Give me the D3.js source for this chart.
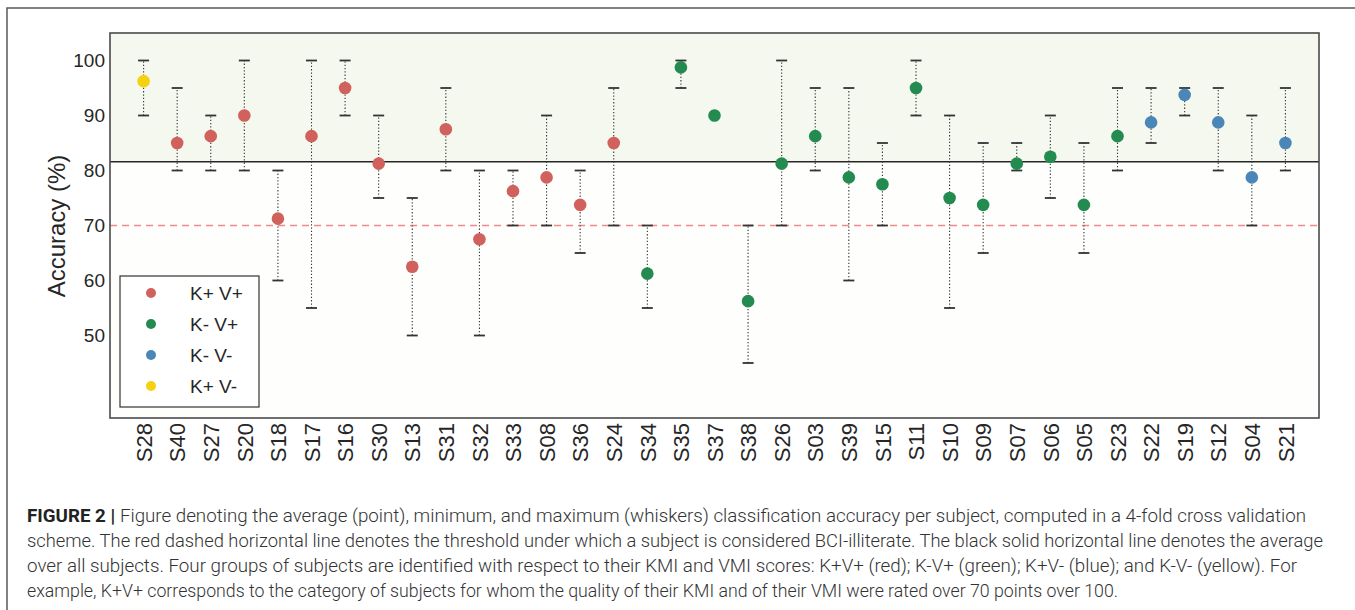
<!DOCTYPE html>
<html>
<head>
<meta charset="utf-8">
<script src="https://cdn.jsdelivr.net/npm/d3@7"></script>
<style>
	body { margin: 0; background: #fff; }
	svg { display: block; }
</style>
</head>
<body>
<div id="wrapper"></div>
<script>
const subjects = ["S28", "S40", "S27", "S20", "S18", "S17", "S16", "S30", "S13", "S31", "S32", "S33", "S08", "S36", "S24", "S34", "S35", "S37", "S38", "S26", "S03", "S39", "S15", "S11", "S10", "S09", "S07", "S06", "S05", "S23", "S22", "S19", "S12", "S04", "S21"];
const means = [96.25, 85, 86.25, 90, 71.25, 86.25, 95, 81.25, 62.5, 87.5, 67.5, 76.25, 78.75, 73.75, 85, 61.25, 98.75, 90, 56.25, 81.25, 86.25, 78.75, 77.5, 95, 75, 73.75, 81.25, 82.5, 73.75, 86.25, 88.75, 93.75, 88.75, 78.75, 85];
const mins = [90, 80, 80, 80, 60, 55, 90, 75, 50, 80, 50, 70, 70, 65, 70, 55, 95, 90, 45, 70, 80, 60, 70, 90, 55, 65, 80, 75, 65, 80, 85, 90, 80, 70, 80];
const maxs = [100, 95, 90, 100, 80, 100, 100, 90, 75, 95, 80, 80, 90, 80, 95, 70, 100, 90, 70, 100, 95, 95, 85, 100, 90, 85, 85, 90, 85, 95, 95, 95, 95, 90, 95];
const groups = ["K+ V-", "K+ V+", "K+ V+", "K+ V+", "K+ V+", "K+ V+", "K+ V+", "K+ V+", "K+ V+", "K+ V+", "K+ V+", "K+ V+", "K+ V+", "K+ V+", "K+ V+", "K- V+", "K- V+", "K- V+", "K- V+", "K- V+", "K- V+", "K- V+", "K- V+", "K- V+", "K- V+", "K- V+", "K- V+", "K- V+", "K- V+", "K- V+", "K- V-", "K- V-", "K- V-", "K- V-", "K- V-"];
const legendLabels = ["K+ V+", "K- V+", "K- V-", "K+ V-"];
const groupColors = ["#d1615d", "#238b50", "#4a86b8", "#f6d10f"];
const yTicks = [50, 60, 70, 80, 90, 100];
const yDomain = [35, 105];
const threshold = 70;

const captionLines = [
	["FIGURE 2 | ", "Figure denoting the average (point), minimum, and maximum (whiskers) classification accuracy per subject, computed in a 4-fold cross validation"],
	["", "scheme. The red dashed horizontal line denotes the threshold under which a subject is considered BCI-illiterate. The black solid horizontal line denotes the average"],
	["", "over all subjects. Four groups of subjects are identified with respect to their KMI and VMI scores: K+V+ (red); K-V+ (green); K+V- (blue); and K-V- (yellow). For"],
	["", "example, K+V+ corresponds to the category of subjects for whom the quality of their KMI and of their VMI were rated over 70 points over 100."],
];
const captionWidths = [1279, 1296, 1270, 1091];

class Chart {
	dimensions = {
		width: 1355,
		height: 610,
		margins: { top: 33, right: 36, bottom: 192, left: 110 },
	};
	svg;
	bounds;
	xScale;
	yScale;
	color;

	constructor() {
		const d = this.dimensions;
		d.boundedWidth = d.width - d.margins.left - d.margins.right;
		d.boundedHeight = d.height - d.margins.top - d.margins.bottom;

		this.data = subjects.map((s, i) => ({
			subject: s,
			mean: means[i],
			min: mins[i],
			max: maxs[i],
			group: groups[i],
		}));
		this.average = d3.mean(means);

		this.drawCanvas();
		this.createScales();
		this.drawBackground();
		this.drawAxes();
		this.drawLines();
		this.drawWhiskers();
		this.drawPoints();
		this.drawLegend();
		this.drawCaption();
	}

	drawCanvas() {
		const { width, height, margins } = this.dimensions;
		this.svg = d3
			.select("#wrapper")
			.append("svg")
			.attr("width", width)
			.attr("height", height);

		// figure frame (runs off the right and bottom edges)
		this.svg
			.append("path")
			.attr("d", `M7,${height + 5} V8 H${width + 5}`)
			.attr("fill", "none")
			.attr("stroke", "#5a5a5a")
			.attr("stroke-width", 1.5);

		this.bounds = this.svg
			.append("g")
			.attr("transform", `translate(${margins.left}, ${margins.top})`);
	}

	createScales() {
		const { boundedWidth, boundedHeight } = this.dimensions;
		this.xScale = d3.scalePoint().domain(subjects).range([0, boundedWidth]).padding(1);
		this.yScale = d3.scaleLinear().domain(yDomain).range([boundedHeight, 0]);
		this.color = d3.scaleOrdinal().domain(legendLabels).range(groupColors);
	}

	drawBackground() {
		const { boundedWidth, boundedHeight } = this.dimensions;
		const yAvg = this.yScale(this.average);
		this.bounds
			.append("rect")
			.attr("width", boundedWidth)
			.attr("height", boundedHeight)
			.attr("fill", "#fefefd");
		// shaded band above the average
		this.bounds
			.append("rect")
			.attr("width", boundedWidth)
			.attr("height", yAvg)
			.attr("fill", "#f5f8ee");
	}

	drawAxes() {
		const { boundedHeight } = this.dimensions;
		const font = "'Liberation Sans', Arial, sans-serif";
		const yAxis = this.bounds
			.append("g")
			.call(d3.axisLeft(this.yScale).tickValues(yTicks).tickSize(0).tickPadding(5));
		yAxis.select(".domain").remove();
		yAxis
			.selectAll("text")
			.attr("font-family", font)
			.attr("font-size", 19)
			.attr("fill", "#262626");

		const xAxis = this.bounds
			.append("g")
			.attr("transform", `translate(0, ${boundedHeight})`)
			.call(d3.axisBottom(this.xScale).tickSize(0));
		xAxis.select(".domain").remove();
		xAxis
			.selectAll("text")
			.attr("font-family", font)
			.attr("font-size", 22)
			.attr("fill", "#262626")
			.attr("text-anchor", "end")
			.attr("dy", "0.35em")
			.attr("transform", "translate(0, 5) rotate(-90)")
			.attr("x", 0)
			.attr("y", 0);

		this.svg
			.append("text")
			.attr("transform", `translate(65, 226) rotate(-90)`)
			.attr("text-anchor", "middle")
			.attr("font-family", font)
			.attr("font-size", 24)
			.attr("fill", "#262626")
			.text("Accuracy (%)");
	}

	drawLines() {
		const { boundedWidth, boundedHeight } = this.dimensions;
		this.bounds
			.append("line")
			.attr("x1", 0)
			.attr("x2", boundedWidth)
			.attr("y1", this.yScale(threshold))
			.attr("y2", this.yScale(threshold))
			.attr("stroke", "#f08a8a")
			.attr("stroke-width", 1.3)
			.attr("stroke-dasharray", "7,5");

		this.bounds
			.append("line")
			.attr("x1", 0)
			.attr("x2", boundedWidth)
			.attr("y1", this.yScale(this.average))
			.attr("y2", this.yScale(this.average))
			.attr("stroke", "#262626")
			.attr("stroke-width", 1.5);

		// plot frame
		this.bounds
			.append("rect")
			.attr("width", boundedWidth)
			.attr("height", boundedHeight)
			.attr("fill", "none")
			.attr("stroke", "#4a4a4a")
			.attr("stroke-width", 1.6);
	}

	drawWhiskers() {
		const groupsSel = this.bounds
			.selectAll(".whisker")
			.data(this.data)
			.enter()
			.append("g")
			.attr("class", "whisker")
			.attr("transform", (d) => `translate(${this.xScale(d.subject)}, 0)`);

		groupsSel
			.append("line")
			.attr("y1", (d) => this.yScale(d.min))
			.attr("y2", (d) => this.yScale(d.max))
			.attr("stroke", "#333")
			.attr("stroke-width", 1.1)
			.attr("stroke-dasharray", "1.3,2");

		for (const key of ["min", "max"]) {
			groupsSel
				.append("line")
				.attr("x1", -5.5)
				.attr("x2", 5.5)
				.attr("y1", (d) => this.yScale(d[key]))
				.attr("y2", (d) => this.yScale(d[key]))
				.attr("stroke", "#333")
				.attr("stroke-width", 1.8);
		}
	}

	drawPoints() {
		this.bounds
			.selectAll(".point")
			.data(this.data)
			.enter()
			.append("circle")
			.attr("class", "point")
			.attr("cx", (d) => this.xScale(d.subject))
			.attr("cy", (d) => this.yScale(d.mean))
			.attr("r", 6.3)
			.attr("fill", (d) => this.color(d.group));
	}

	drawLegend() {
		const legend = this.svg.append("g").attr("transform", "translate(120, 276)");
		legend
			.append("rect")
			.attr("width", 139)
			.attr("height", 131)
			.attr("fill", "#fff")
			.attr("stroke", "#333")
			.attr("stroke-width", 1.2);

		const rows = legend
			.selectAll(".row")
			.data(legendLabels)
			.enter()
			.append("g")
			.attr("transform", (d, i) => `translate(0, ${17 + i * 31})`);
		rows
			.append("circle")
			.attr("cx", 31)
			.attr("r", 5)
			.attr("fill", (d) => this.color(d));
		rows
			.append("text")
			.attr("x", 70)
			.attr("dy", "0.35em")
			.attr("font-family", "'Liberation Sans', Arial, sans-serif")
			.attr("font-size", 19)
			.attr("fill", "#262626")
			.text((d) => d);
	}

	drawCaption() {
		const caption = this.svg.append("g");
		captionLines.forEach(([bold, rest], i) => {
			const line = caption
				.append("text")
				.attr("x", 27)
				.attr("y", 522 + i * 25)
				.attr("font-family", "Roboto, sans-serif")
				.attr("font-size", 18)
				.attr("fill", "#333")
				.attr("textLength", captionWidths[i])
				.attr("lengthAdjust", "spacingAndGlyphs");
			if (bold) {
				line.append("tspan").attr("font-weight", 700).attr("fill", "#222").text(bold);
			}
			line.append("tspan").attr("font-weight", 300).text(rest);
		});
	}
}

const chart = new Chart();
</script>
</body>
</html>
